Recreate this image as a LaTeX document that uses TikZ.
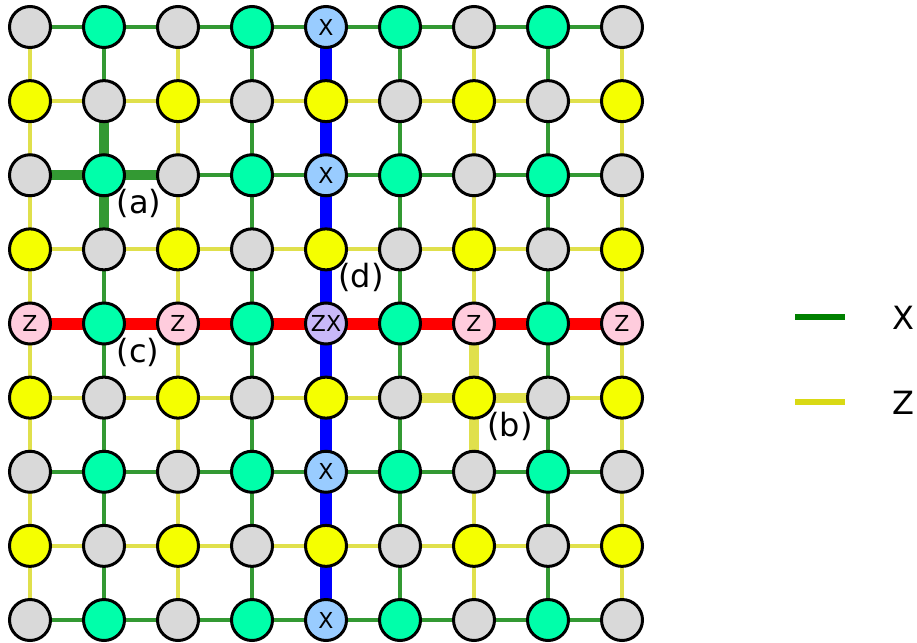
\documentclass[tikz,border=0pt]{standalone}
\usepackage{fontspec}
\setmainfont{DejaVu Sans}
\usetikzlibrary{backgrounds}
\definecolor{qgray}{HTML}{D9D9D9}
\definecolor{qgreen}{HTML}{00FFAA}
\definecolor{qyellow}{HTML}{F5FF00}
\definecolor{qblue}{HTML}{99CCFF}
\definecolor{qpink}{HTML}{FFCCDD}
\definecolor{qlav}{HTML}{C8B8F8}
\definecolor{egreen}{HTML}{339933}
\definecolor{eyellow}{HTML}{E0E04C}
\definecolor{lgreen}{HTML}{008000}
\definecolor{lyellow}{HTML}{D9D914}
\tikzset{
  qubit/.style={circle, draw=black, line width=3pt, minimum size=41pt, inner sep=0pt,
    font=\fontsize{22}{24}\selectfont},
  gq/.style={qubit, fill=qgray},
  xq/.style={qubit, fill=qgreen},
  zq/.style={qubit, fill=qyellow},
  xs/.style={qubit, fill=qblue},
  zs/.style={qubit, fill=qpink},
  zxs/.style={qubit, fill=qlav},
  xedge/.style={draw=egreen, line width=4pt},
  zedge/.style={draw=eyellow, line width=4pt},
  xthick/.style={draw=egreen, line width=10pt},
  zthick/.style={draw=eyellow, line width=10pt},
  redline/.style={draw=red, line width=12pt},
  blueline/.style={draw=blue, line width=12pt},
  tag/.style={font=\fontsize{32}{34}\selectfont, inner sep=0pt},
}
\begin{document}
\begin{tikzpicture}[x=1pt, y=-1pt]
\useasboundingbox (0,0) rectangle (917,642);
% qubit grid
\foreach \r in {0,...,8}{
  \foreach \c in {0,...,8}{
    \pgfmathtruncatemacro\ro{mod(\r,2)}
    \pgfmathtruncatemacro\co{mod(\c,2)}
    \def\txt{}
    \ifnum\ro=1
      \ifnum\co=0 \def\kind{zq}\else\def\kind{gq}\fi
    \else
      \ifnum\co=1 \def\kind{xq}\else\def\kind{gq}\fi
    \fi
    \ifnum\c=4 \ifnum\ro=0 \def\kind{xs}\def\txt{X}\fi\fi
    \ifnum\r=4 \ifnum\co=0 \def\kind{zs}\def\txt{Z}\fi\fi
    \ifnum\r=4 \ifnum\c=4 \def\kind{zxs}\def\txt{ZX}\fi\fi
    \node[\kind] (n-\c-\r) at ({30+74*\c},{27+74.125*\r}) {\txt};
  }
}
\begin{scope}[on background layer]
  % horizontal couplings: even rows X, odd rows Z
  \foreach \r in {0,...,8}{
    \foreach \c [count=\cn from 1] in {0,...,7}{
      \ifodd\r
        \draw[zedge] (n-\c-\r.center) -- (n-\cn-\r.center);
      \else
        \draw[xedge] (n-\c-\r.center) -- (n-\cn-\r.center);
      \fi
    }
  }
  % vertical couplings: odd columns X, even columns Z
  \foreach \c in {0,...,8}{
    \foreach \r [count=\rn from 1] in {0,...,7}{
      \ifodd\c
        \draw[xedge] (n-\c-\r.center) -- (n-\c-\rn.center);
      \else
        \draw[zedge] (n-\c-\r.center) -- (n-\c-\rn.center);
      \fi
    }
  }
  % highlighted stabilizers
  \draw[xthick] (n-0-2.center) -- (n-2-2.center);
  \draw[xthick] (n-1-1.center) -- (n-1-3.center);
  \draw[zthick] (n-5-5.center) -- (n-7-5.center);
  \draw[zthick] (n-6-4.center) -- (n-6-6.center);
  % logical operators
  \draw[redline] (n-0-4.center) -- (n-8-4.center);
  \draw[blueline] (n-4-0.center) -- (n-4-8.center);
\end{scope}
% labels
\node[tag] (la) at (139,203) {(a)};
\node[tag] (lb) at (510,426) {(b)};
\node[tag] (lc) at (138,352) {(c)};
\node[tag] (ld) at (361,277) {(d)};
% legend
\coordinate (gx0) at (795,317);
\coordinate (gx1) at (845,317);
\coordinate (gz0) at (795,402);
\coordinate (gz1) at (845,402);
\draw[draw=lgreen, line width=6pt] (gx0) -- (gx1);
\draw[draw=lyellow, line width=6pt] (gz0) -- (gz1);
\node[tag] (lx) at (903,318) {X};
\node[tag] (lz) at (903,403) {Z};
\end{tikzpicture}
\end{document}
